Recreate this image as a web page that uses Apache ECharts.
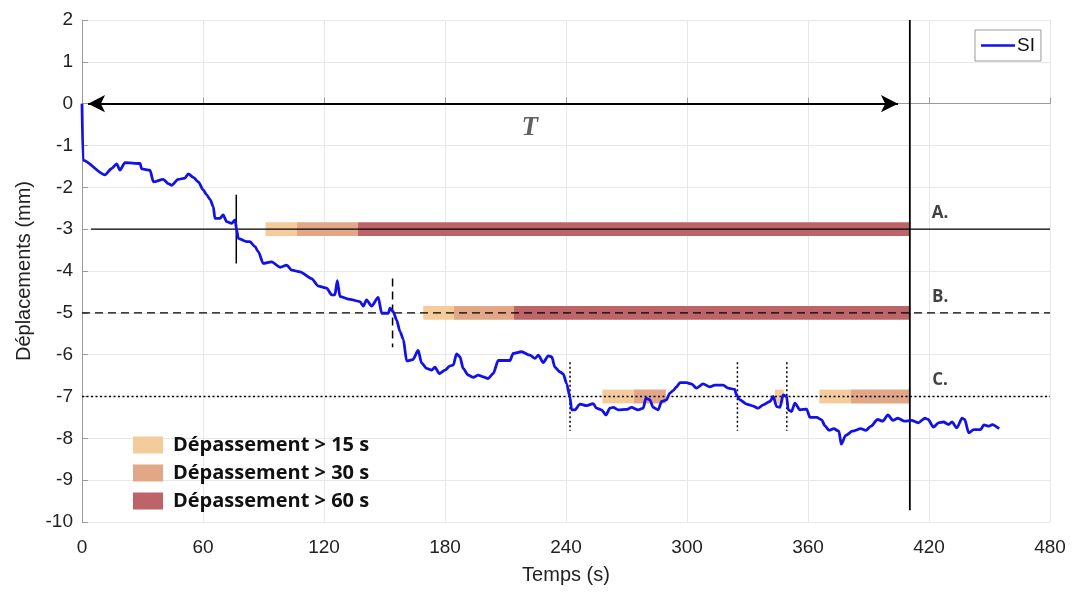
<!DOCTYPE html>
<html>
<head>
<meta charset="utf-8">
<script src="https://cdn.jsdelivr.net/npm/echarts@6/dist/echarts.min.js"></script>
<style>html,body{margin:0;padding:0;background:#fff}#c{width:1078px;height:592px}</style>
</head>
<body>
<div id="c"></div>
<script>
// ---- data ----
const siTime = [0,0.5,11.4,14.7,17.2,18.8,21.3,28.8,29.6,33.7,35.4,40.3,42.8,44.4,47.7,51,52.7,55.2,57.7,60.1,61.8,63.5,65.1,65.9,68.4,70,71.7,74.2,75.9,76.7,77.5,81.7,83.3,85.8,87.4,89.9,94,98.2,101.5,104,108.1,113.8,117.2,121.3,123.8,125.4,126.6,127.9,132.9,137.8,139.5,141.1,143.6,146.9,148.6,151.9,152.7,154.3,156,157.7,159.3,161,164,166.7,168.4,170.9,173.4,175,177.2,180,182.5,184.1,185.7,187.4,189,191.5,194,196.5,199,201.4,203.9,206.4,212.2,213.8,218,222.1,224.6,226.3,228.7,231.2,232.9,234.5,237,238.6,240.3,241.9,242.8,244.4,246.9,250.2,253.5,255.1,257.6,259.8,261.8,263.4,265.9,270,272.5,275.8,278.3,279.6,281.6,283.2,285.7,287.4,289.8,291.5,293.1,294.8,296.5,299.8,302.2,304.7,308,311.3,313.8,317.9,320.4,323.7,324.5,326.2,329.5,332.8,335.3,337.8,341.1,342.8,344.4,346.1,347.7,349.4,350.2,351.8,353.5,356,359.3,361,364.3,366.8,368.4,370.5,372.8,375.3,376.5,378.7,382,386.2,388.7,391.2,394.5,397.1,399.6,402.1,404.6,407.9,411.3,414.6,418,419.6,422.2,424.7,427.2,429.7,431.4,433.8,436.4,437.7,439.7,442.2,445.6,447.2,449.8,451.4,454.8];
const siValue = [0,-1.35,-1.7,-1.55,-1.44,-1.59,-1.41,-1.43,-1.56,-1.59,-1.87,-1.81,-1.91,-1.95,-1.81,-1.78,-1.68,-1.76,-1.87,-2.06,-2.18,-2.29,-2.46,-2.74,-2.74,-2.66,-2.82,-2.86,-2.78,-3.02,-3.22,-3.3,-3.3,-3.42,-3.54,-3.82,-3.78,-3.91,-3.86,-3.98,-4.02,-4.18,-4.36,-4.41,-4.57,-4.57,-4.23,-4.61,-4.68,-4.73,-4.84,-4.69,-4.84,-4.63,-5.01,-5.01,-4.89,-4.97,-5.17,-5.45,-5.63,-6.15,-6.12,-5.9,-6.2,-6.33,-6.37,-6.3,-6.45,-6.37,-6.27,-6.25,-5.98,-6.05,-6.33,-6.49,-6.54,-6.49,-6.53,-6.57,-6.45,-6.14,-6.14,-5.97,-5.93,-6.01,-6.09,-6.01,-6.19,-6.03,-6.05,-6.3,-6.41,-6.46,-6.69,-7.0,-7.32,-7.32,-7.18,-7.22,-7.17,-7.28,-7.32,-7.44,-7.28,-7.26,-7.32,-7.31,-7.26,-7.32,-7.28,-7.04,-7.08,-7.26,-7.32,-7.12,-7.08,-6.92,-6.86,-6.77,-6.67,-6.67,-6.7,-6.8,-6.7,-6.77,-6.73,-6.73,-6.8,-6.83,-6.96,-7.08,-7.18,-7.23,-7.28,-7.2,-7.12,-7.0,-7.24,-7.26,-6.96,-7.0,-7.32,-7.36,-7.16,-7.32,-7.3,-7.5,-7.5,-7.56,-7.7,-7.81,-7.77,-7.83,-8.14,-7.93,-7.83,-7.77,-7.81,-7.71,-7.55,-7.59,-7.44,-7.57,-7.52,-7.59,-7.57,-7.63,-7.52,-7.55,-7.73,-7.63,-7.61,-7.67,-7.61,-7.75,-7.52,-7.55,-7.87,-7.79,-7.79,-7.68,-7.71,-7.67,-7.77];

const thresholdLevels = [-3, -5, -7];
const thresholdNames = ['A.', 'B.', 'C.'];
const crossingsA = [76.5];
const crossingsB = [154];
const crossingsC = [242, 325, 349.5];
const periodEnd = 410.5;   // vertical line / end of T
const arrowStart = 3, arrowEnd = 404.6;

const exceedNames = ['Dépassement > 15 s', 'Dépassement > 30 s', 'Dépassement > 60 s'];
// [start, end, level]
const exceed15 = [[91, 106.6, -3], [169.2, 184.4, -5], [258, 273.7, -7], [343.6, 348, -7], [365.6, 381.2, -7]];
const exceed30 = [[106.6, 136.8, -3], [184.4, 214.2, -5], [273.7, 289.5, -7], [381.2, 410.5, -7]];
const exceed60 = [[136.8, 410.5, -3], [214.2, 410.5, -5]];

const xTicks = [0, 480, 60];   // min, max, interval
const yTicks = [-10, 2, 1];

// ---- chart ----
const chart = echarts.init(document.getElementById('c'));
const BAR_HALF = 0.165;
const MARK_HALF = 0.82;
const exceedColors = ['#f4cc9c', '#e2a787', '#bd6468'];
const labelFont = 'Liberation Sans';

function barSeries(name, data, color) {
  return {
    name, type: 'custom', data, z: 2,
    itemStyle: { color },
    encode: { x: [0, 1], y: 2 },
    renderItem: function (params, api) {
      const p1 = api.coord([api.value(0), api.value(2) + BAR_HALF]);
      const p2 = api.coord([api.value(1), api.value(2) - BAR_HALF]);
      return { type: 'rect', shape: { x: p1[0], y: p1[1], width: p2[0] - p1[0], height: p2[1] - p1[1] }, style: { fill: color } };
    }
  };
}

const lineStyles = [
  { type: 'solid' },
  { type: [8, 5] },
  { type: [2, 2.5] }
];

const series = [];
series.push(barSeries(exceedNames[0], exceed15, exceedColors[0]));
series.push(barSeries(exceedNames[1], exceed30, exceedColors[1]));
series.push(barSeries(exceedNames[2], exceed60, exceedColors[2]));

thresholdLevels.forEach((lv, i) => {
  const x0 = i === 0 ? 4.5 : 0;
  series.push({
    type: 'line', data: [[x0, lv], [xTicks[1], lv]], symbol: 'none', silent: true, z: 3,
    lineStyle: Object.assign({ color: '#000', width: 1.4 }, lineStyles[i])
  });
});
[crossingsA, crossingsB, crossingsC].forEach((arr, i) => {
  arr.forEach(t => {
    series.push({
      type: 'line', data: [[t, thresholdLevels[i] + MARK_HALF], [t, thresholdLevels[i] - MARK_HALF]],
      symbol: 'none', silent: true, z: 3,
      lineStyle: Object.assign({ color: '#000', width: 1.5 }, lineStyles[i])
    });
  });
});
// vertical end line
series.push({
  type: 'line', data: [[periodEnd, yTicks[1]], [periodEnd, -9.72]], symbol: 'none', silent: true, z: 3,
  lineStyle: { color: '#000', width: 1.8 }
});
// arrow T
series.push({
  type: 'line', data: [], z: 4,
  markLine: {
    silent: true, symbol: ['arrow', 'arrow'], symbolSize: [13, 17],
    lineStyle: { color: '#000', width: 1.8, type: 'solid' },
    label: { show: false },
    data: [[{ coord: [arrowStart, 0] }, { coord: [arrowEnd, 0] }]]
  }
});
// texts
series.push({
  type: 'scatter', symbolSize: 0, silent: true, z: 5,
  data: [[222, -0.58]],
  label: { show: true, position: 'inside', formatter: 'T', fontFamily: 'Liberation Serif', fontStyle: 'italic', fontWeight: 'bold', fontSize: 27, color: '#3a3a3a' }
});
series.push({
  type: 'scatter', symbolSize: 0, silent: true, z: 5,
  data: thresholdLevels.map((lv, i) => [425.5, lv + 0.38, thresholdNames[i]]),
  label: { show: true, position: 'inside', formatter: p => p.value[2], fontFamily: 'Open Sans', fontWeight: 'bold', fontSize: 17, color: '#111' }
});
// SI line
series.push({
  name: 'SI', type: 'line', data: siTime.map((t, i) => [t, siValue[i]]),
  symbol: 'none', z: 6, smooth: 0.25, smoothMonotone: 'x',
  lineStyle: { color: '#1212e6', width: 2.8, join: 'round' }, itemStyle: { color: '#1212e6' }
});

chart.setOption({
  animation: false,
  grid: { left: 82, top: 20, right: 28, bottom: 70, containLabel: false },
  legend: [
    {
      data: [{ name: 'SI', icon: 'rect' }], left: 975, top: 30, orient: 'vertical',
      borderColor: '#9a9a9a', borderWidth: 1, borderRadius: 0, padding: [6, 6, 6, 6],
      backgroundColor: '#fff', itemWidth: 34, itemHeight: 2.5, itemGap: 0,
      textStyle: { fontFamily: labelFont, fontSize: 19, color: '#111', padding: [0, 0, 0, -3] }
    },
    {
      data: exceedNames, left: 133, top: 435, orient: 'vertical', itemGap: 8, padding: 0,
      itemWidth: 30, itemHeight: 17, icon: 'rect',
      textStyle: { fontFamily: 'Open Sans', fontWeight: 'bold', fontSize: 20, color: '#111', padding: [0, 0, 0, 5] }
    }
  ],
  xAxis: {
    type: 'value', min: xTicks[0], max: xTicks[1], interval: xTicks[2],
    name: 'Temps (s)', nameLocation: 'middle', nameGap: 43,
    nameTextStyle: { fontFamily: labelFont, fontSize: 20, color: '#222' },
    axisLine: { lineStyle: { color: '#9a9a9a' } },
    axisTick: { inside: true, length: 6, lineStyle: { color: '#9a9a9a' } },
    axisLabel: { fontFamily: labelFont, fontSize: 19, color: '#222', margin: 16 },
    splitLine: { show: true, lineStyle: { color: '#e8e8e8' } }
  },
  yAxis: {
    type: 'value', min: yTicks[0], max: yTicks[1], interval: yTicks[2],
    name: 'Déplacements (mm)', nameLocation: 'middle', nameGap: 48,
    nameTextStyle: { fontFamily: labelFont, fontSize: 20, color: '#222' },
    axisLine: { show: true, lineStyle: { color: '#9a9a9a' } },
    axisTick: { show: true, inside: true, length: 6, lineStyle: { color: '#9a9a9a' } },
    axisLabel: { fontFamily: labelFont, fontSize: 19, color: '#222', margin: 9 },
    splitLine: { show: true, lineStyle: { color: '#e8e8e8' } }
  },
  series
});
</script>
</body>
</html>
